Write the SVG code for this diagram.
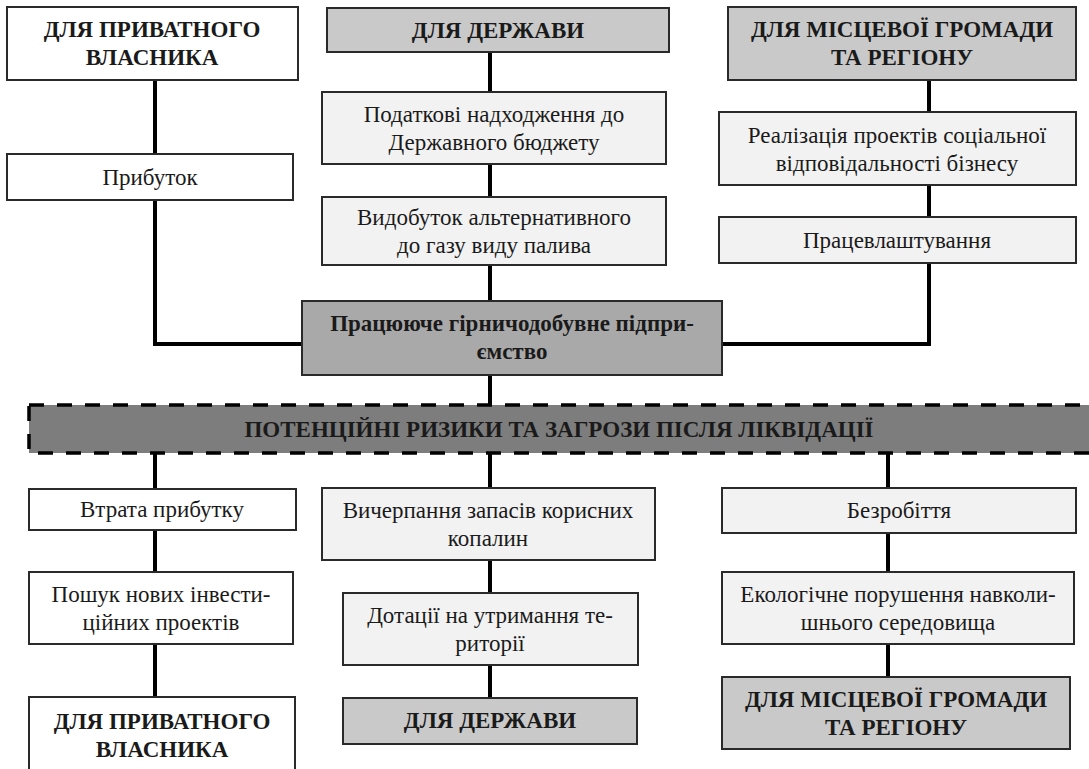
<svg xmlns="http://www.w3.org/2000/svg" width="1089" height="769" viewBox="0 0 1089 769" font-family="Liberation Serif, Times New Roman, serif">
<style>
.box{stroke:#2a2a2a;stroke-width:2}
.w{fill:#ffffff}
.l{fill:#f2f2f2}
.g{fill:#c9c9c9}
.m{fill:#a9a9a9}
text{font-size:23px;fill:#1a1a1a;text-anchor:middle}
.b{font-weight:bold;font-size:23px}
.c{stroke:#000;stroke-width:4;fill:none}
</style>
<rect width="1089" height="769" fill="#ffffff"/>
<g id="connectors">
<path class="c" d="M155 80V154M155 200V344H302"/>
<path class="c" d="M490 52V92M490 164V197M490 265V301M490 375V405"/>
<path class="c" d="M929 80V112M929 185V217M929 263V344H722"/>
<path class="c" d="M155 453V489M155 530V572M155 644V697"/>
<path class="c" d="M490 453V488M490 560V593M490 665V698"/>
<path class="c" d="M888 453V488M888 533V572M888 644V677"/>
</g>
<g id="n-owner-top"><rect class="box w" x="7" y="7" width="291" height="73"/><text class="b" x="152" y="37">ДЛЯ ПРИВАТНОГО</text><text class="b" x="152" y="65">ВЛАСНИКА</text></g>
<g id="n-state-top"><rect class="box g" x="327" y="8" width="342" height="44"/><text class="b" x="498" y="38">ДЛЯ ДЕРЖАВИ</text></g>
<g id="n-community-top"><rect class="box g" x="728" y="7" width="348" height="73"/><text class="b" x="902" y="37">ДЛЯ МІСЦЕВОЇ ГРОМАДИ</text><text class="b" x="902" y="65">ТА РЕГІОНУ</text></g>
<g id="n-profit"><rect class="box w" x="7" y="154" width="286" height="46"/><text x="150" y="185">Прибуток</text></g>
<g id="n-taxes"><rect class="box l" x="322" y="92" width="344" height="72"/><text x="494" y="122">Податкові надходження до</text><text x="494" y="150">Державного бюджету</text></g>
<g id="n-fuel"><rect class="box l" x="322" y="197" width="344" height="68"/><text x="494" y="225">Видобуток альтернативного</text><text x="494" y="253">до газу виду палива</text></g>
<g id="n-csr"><rect class="box l" x="719" y="112" width="357" height="73"/><text x="897" y="143">Реалізація проектів соціальної</text><text x="897" y="171">відповідальності бізнесу</text></g>
<g id="n-jobs"><rect class="box l" x="719" y="217" width="357" height="46"/><text x="897" y="248">Працевлаштування</text></g>
<g id="n-enterprise"><rect class="box m" x="302" y="301" width="420" height="74"/><text class="b" x="512" y="331">Працююче гірничодобувне підпри-</text><text class="b" x="512" y="359">ємство</text></g>
<g id="n-risks"><rect x="29" y="405" width="1080" height="48" fill="#7d7d7d" stroke="#000" stroke-width="3.5" stroke-dasharray="15 13"/><text class="b" x="559" y="437">ПОТЕНЦІЙНІ РИЗИКИ ТА ЗАГРОЗИ ПІСЛЯ ЛІКВІДАЦІЇ</text></g>
<g id="n-loss"><rect class="box w" x="29" y="489" width="267" height="41"/><text x="162" y="517">Втрата прибутку</text></g>
<g id="n-invest"><rect class="box w" x="29" y="572" width="264" height="72"/><text x="161" y="602">Пошук нових інвести-</text><text x="161" y="630">ційних проектів</text></g>
<g id="n-owner-bottom"><rect class="box w" x="29" y="697" width="266" height="80"/><text class="b" x="162" y="729">ДЛЯ ПРИВАТНОГО</text><text class="b" x="162" y="757">ВЛАСНИКА</text></g>
<g id="n-depletion"><rect class="box l" x="322" y="488" width="333" height="72"/><text x="488" y="518">Вичерпання запасів корисних</text><text x="488" y="546">копалин</text></g>
<g id="n-subsidies"><rect class="box l" x="343" y="593" width="295" height="72"/><text x="490" y="623">Дотації на утримання те-</text><text x="490" y="651">риторії</text></g>
<g id="n-state-bottom"><rect class="box g" x="343" y="698" width="294" height="46"/><text class="b" x="490" y="728">ДЛЯ ДЕРЖАВИ</text></g>
<g id="n-unemployment"><rect class="box l" x="722" y="488" width="354" height="45"/><text x="899" y="518">Безробіття</text></g>
<g id="n-ecology"><rect class="box l" x="722" y="572" width="352" height="72"/><text x="898" y="602">Екологічне порушення навколи-</text><text x="898" y="630">шнього середовища</text></g>
<g id="n-community-bottom"><rect class="box g" x="722" y="677" width="348" height="72"/><text class="b" x="896" y="707">ДЛЯ МІСЦЕВОЇ ГРОМАДИ</text><text class="b" x="896" y="735">ТА РЕГІОНУ</text></g>
</svg>
